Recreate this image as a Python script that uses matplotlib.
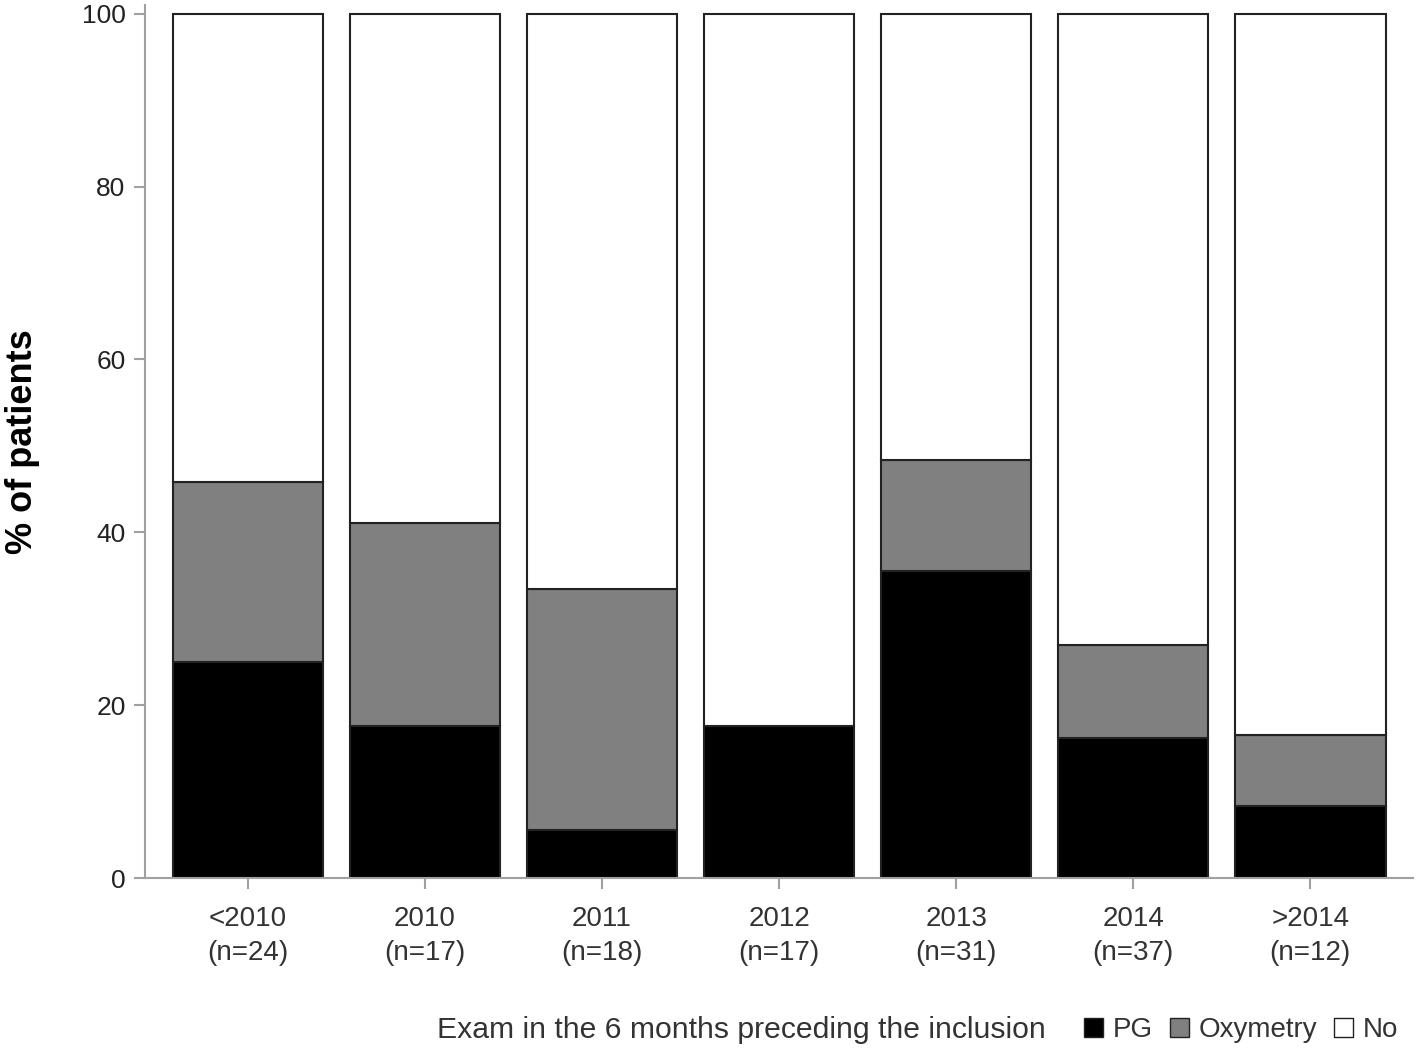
import numpy as np
import matplotlib.pyplot as plt
from matplotlib.patches import Patch

plt.rcParams['font.family'] = ['Liberation Sans', 'DejaVu Sans']

years = ['<2010', '2010', '2011', '2012', '2013', '2014', '>2014']
n = [24, 17, 18, 17, 31, 37, 12]
pg = [25.0, 17.6, 5.6, 17.6, 35.5, 16.2, 8.3]
oxy = [20.8, 23.5, 27.8, 0.0, 12.9, 10.8, 8.3]
no = [100 - a - b for a, b in zip(pg, oxy)]

labels = [f'{y}\n(n={k})' for y, k in zip(years, n)]
x = np.arange(len(years))

fig = plt.figure(figsize=(14.18, 10.5), dpi=100)
ax = fig.add_axes([0.1023, 0.1638, 0.8942, 0.8314])

w = 0.85
ec = '#222222'
ax.bar(x, pg, w, color='black', edgecolor=ec, linewidth=1.5)
ax.bar(x, oxy, w, bottom=pg, color='#808080', edgecolor=ec, linewidth=1.5)
ax.bar(x, no, w, bottom=np.array(pg) + np.array(oxy), color='white', edgecolor=ec, linewidth=1.5)

ax.set_xlim(-0.58, 6.58)
ax.set_ylim(0, 101)
ax.set_yticks([0, 20, 40, 60, 80, 100])
ax.set_xticks(x)
ax.set_xticklabels(labels, fontsize=20, linespacing=1.4)
ax.tick_params(colors='#a0a0a0', length=8, width=1.5)
ax.tick_params(axis='y', labelsize=19, labelcolor='#222222', pad=6)
ax.tick_params(axis='x', pad=12, labelcolor='#333333')
for s in ['top', 'right']:
    ax.spines[s].set_visible(False)
for s in ['left', 'bottom']:
    ax.spines[s].set_color('#a0a0a0')
    ax.spines[s].set_linewidth(1.5)

ax.set_ylabel('% of patients', fontsize=26, fontweight='bold', labelpad=30)

fig.text(0.308, 0.019, 'Exam in the 6 months preceding the inclusion',
         fontsize=21.7, color='#333333', va='center')
handles = [Patch(facecolor='black', edgecolor=ec),
           Patch(facecolor='#808080', edgecolor=ec),
           Patch(facecolor='white', edgecolor=ec)]
fig.legend(handles, ['PG', 'Oxymetry', 'No'], loc='center right',
           bbox_to_anchor=(1.0, 0.019), ncol=3, frameon=False, fontsize=20,
           handlelength=0.7, handleheight=0.7, handletextpad=0.35,
           columnspacing=0.6, labelcolor='#333333', borderaxespad=0.3)

fig.savefig('out.png')
